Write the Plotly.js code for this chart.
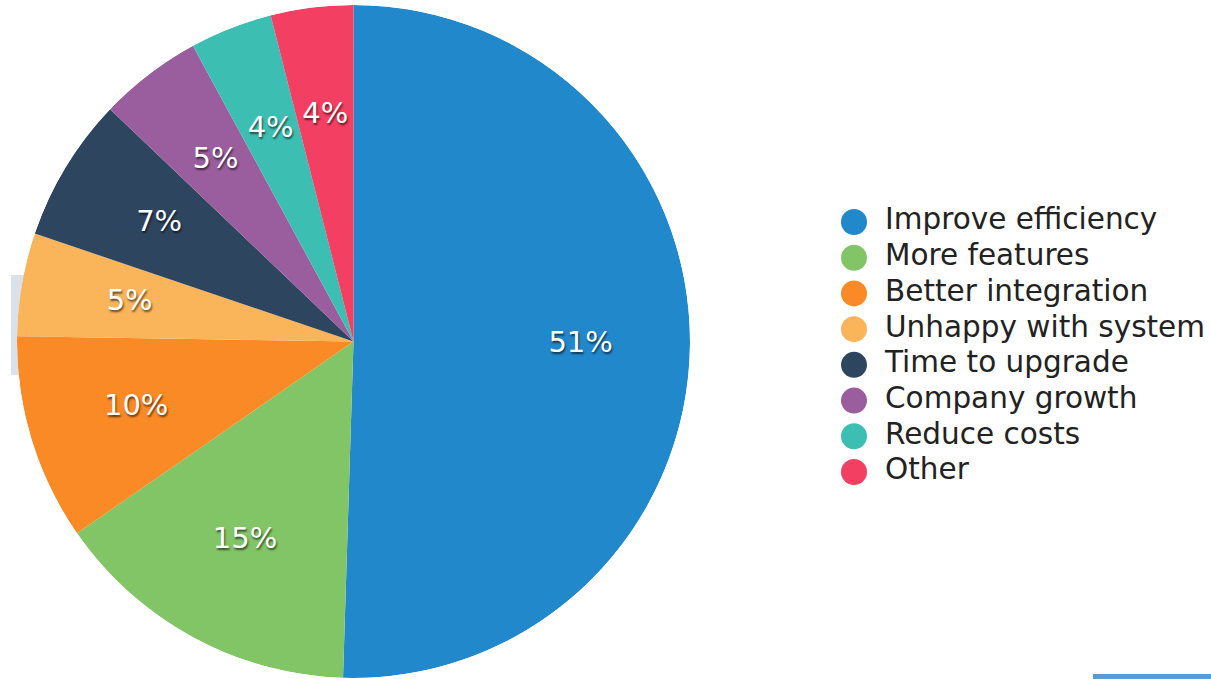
<!DOCTYPE html>
<html>
<head>
<meta charset="utf-8">
<script src="https://cdn.plot.ly/plotly-3.0.1.min.js"></script>
<style>
html,body{margin:0;padding:0;overflow:hidden;background:#fff;}
#chart{width:1211px;height:679px;}
</style>
</head>
<body>
<div id="chart"></div>
<script>
// Data
var labels = ["Improve efficiency","More features","Better integration","Unhappy with system","Time to upgrade","Company growth","Reduce costs","Other"];
var values = [51, 15, 10, 5, 7, 5, 4, 4];
var colors = ["#2188CB","#82C566","#FA8A25","#FAB45A","#2E4560","#9A5E9E","#3CBFB2","#F33F62"];

var W = 1211, H = 679;
var FONT = "DejaVu Sans, Verdana, sans-serif";

// Slice angles derived from the values (clockwise from 12 o'clock)
var total = values.reduce(function(a, b){ return a + b; }, 0);
var widths = [], mids = [];
var acc = 0;
values.forEach(function(v){
  widths.push(v / total * 360);
  mids.push((acc + v / 2) / total * 360);
  acc += v;
});

var slices = {
  type: "barpolar",
  r: values.map(function(){ return 1; }),
  theta: mids,
  width: widths,
  base: 0,
  marker: {color: colors, line: {width: 0}},
  showlegend: false,
  hoverinfo: "skip",
  subplot: "polar"
};

var sliceLabels = {
  type: "scatterpolar",
  mode: "text",
  r: values.map(function(){ return 0.675; }),
  theta: mids,
  text: values.map(function(v){ return v + "%"; }),
  textposition: "middle center",
  textfont: {family: FONT, size: 29, color: "#ffffff", shadow: "1px 2px 2px rgba(0,0,0,0.6)"},
  showlegend: false,
  hoverinfo: "skip",
  cliponaxis: false,
  subplot: "polar"
};

// Custom legend drawn with circles on hidden axes
var legendMarkers = {
  type: "scatter",
  mode: "markers",
  x: labels.map(function(){ return 854; }),
  y: labels,
  marker: {color: colors, size: 26, line: {width: 0}},
  showlegend: false,
  hoverinfo: "skip",
  cliponaxis: false
};
var legendText = {
  type: "scatter",
  mode: "text",
  x: labels.map(function(){ return 885; }),
  y: labels,
  text: labels,
  textposition: "middle right",
  textfont: {family: FONT, size: 29.5, color: "#222222"},
  showlegend: false,
  hoverinfo: "skip",
  cliponaxis: false
};

var layout = {
  width: W,
  height: H,
  margin: {l: 0, r: 0, t: 0, b: 0},
  paper_bgcolor: "#ffffff",
  plot_bgcolor: "rgba(0,0,0,0)",
  showlegend: false,
  polar: {
    domain: {x: [17 / W, 690 / W], y: [(H - 678) / H, (H - 5) / H]},
    bgcolor: "rgba(0,0,0,0)",
    bargap: 0,
    hole: 0,
    radialaxis: {visible: false, range: [0, 1], showgrid: false, showline: false, showticklabels: false, ticks: ""},
    angularaxis: {visible: false, rotation: 90, direction: "clockwise", showgrid: false, showline: false, showticklabels: false, ticks: ""}
  },
  xaxis: {visible: false, range: [0, W], domain: [0, 1], fixedrange: true},
  yaxis: {visible: false, type: "category", range: [labels.length - 0.5, -0.5],
          domain: [(H - 489.9) / H, (H - 204.1) / H], fixedrange: true},
  shapes: [
    {type: "rect", xref: "paper", yref: "paper", layer: "below",
     x0: 11 / W, x1: 60 / W, y0: (H - 375) / H, y1: (H - 275) / H,
     fillcolor: "#dce1e7", line: {width: 0}},
    {type: "rect", xref: "paper", yref: "paper", layer: "below",
     x0: 1093 / W, x1: 1, y0: 0, y1: (H - 674) / H,
     fillcolor: "#5b9bd5", line: {width: 0}}
  ]
};

Plotly.newPlot("chart", [slices, sliceLabels, legendMarkers, legendText], layout, {displayModeBar: false, staticPlot: true});
</script>
</body>
</html>
